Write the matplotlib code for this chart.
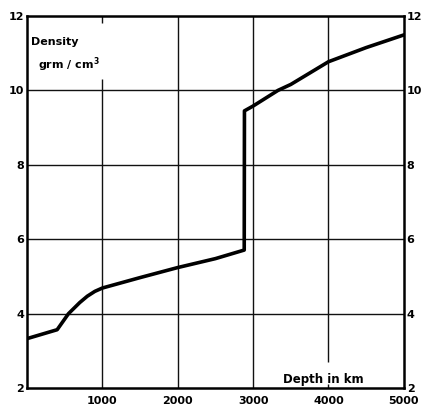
import matplotlib
matplotlib.use("Agg")
import matplotlib.pyplot as plt

depth_km = [0, 400, 550, 700, 800, 900, 1000, 1500, 2000, 2500, 2882, 2885, 3000, 3330, 3500, 4000, 4500, 5000]
density = [3.33, 3.57, 4.0, 4.30, 4.47, 4.60, 4.69, 4.97, 5.24, 5.48, 5.71, 9.45, 9.58, 10.0, 10.16, 10.77, 11.15, 11.49]

x_ticks = [1000, 2000, 3000, 4000, 5000]
x_ticklabels = ["1000", "2000", "3000", "4000", "5000"]
y_ticks = [2, 4, 6, 8, 10, 12]
y_ticklabels = ["2", "4", "6", "8", "10", "12"]

fig = plt.figure(figsize=(4.22, 4.09), dpi=100)
ax = fig.add_axes([0.064, 0.051, 0.893, 0.910])
ax.set_xlim(0, 5000)
ax.set_ylim(2, 12)

# grid lines (with gaps for labels as in original)
gc = "#111111"
ax.vlines(1000, 2, 10.3, color=gc, lw=1.0, zorder=1)
ax.vlines(1000, 11.8, 12, color=gc, lw=1.0, zorder=1)
ax.vlines(2000, 2, 12, color=gc, lw=1.0, zorder=1)
ax.vlines(3000, 2, 12, color=gc, lw=1.0, zorder=1)
ax.vlines(4000, 2.7, 12, color=gc, lw=1.0, zorder=1)
ax.vlines(4000, 2, 2.12, color=gc, lw=1.0, zorder=1)
for yv in [4, 6, 8, 10]:
    ax.hlines(yv, 0, 5000, color=gc, lw=1.0, zorder=1)

ax.plot(depth_km, density, color="black", lw=2.6, solid_joinstyle="round", zorder=3)

for s in ax.spines.values():
    s.set_linewidth(1.8)
    s.set_color("black")

fp = dict(fontsize=8, fontweight="bold", family="DejaVu Sans")
ax.set_xticks(x_ticks)
ax.set_xticklabels(x_ticklabels, **fp)
ax.set_yticks(y_ticks)
ax.set_yticklabels(y_ticklabels, **fp)
ax.tick_params(axis="x", length=0, pad=6)
ax.tick_params(axis="y", length=0, pad=2, labelright=True, right=False)
# lift the lowest right-hand label slightly, as in the original
ax.get_yticklabels(which="major")
for lab in ax.yaxis.get_ticklabels(which="major"):
    pass

ax.text(50, 11.3, "Density", fontsize=8, fontweight="bold", ha="left", va="center")
ax.text(150, 10.7, "grm / cm$^{\\mathbf{3}}$", fontsize=8, fontweight="bold", ha="left", va="center")
ax.text(3390, 2.22, "Depth in km", fontsize=8.5, fontweight="bold", ha="left", va="center")

fig.savefig("out.png", dpi=100)
